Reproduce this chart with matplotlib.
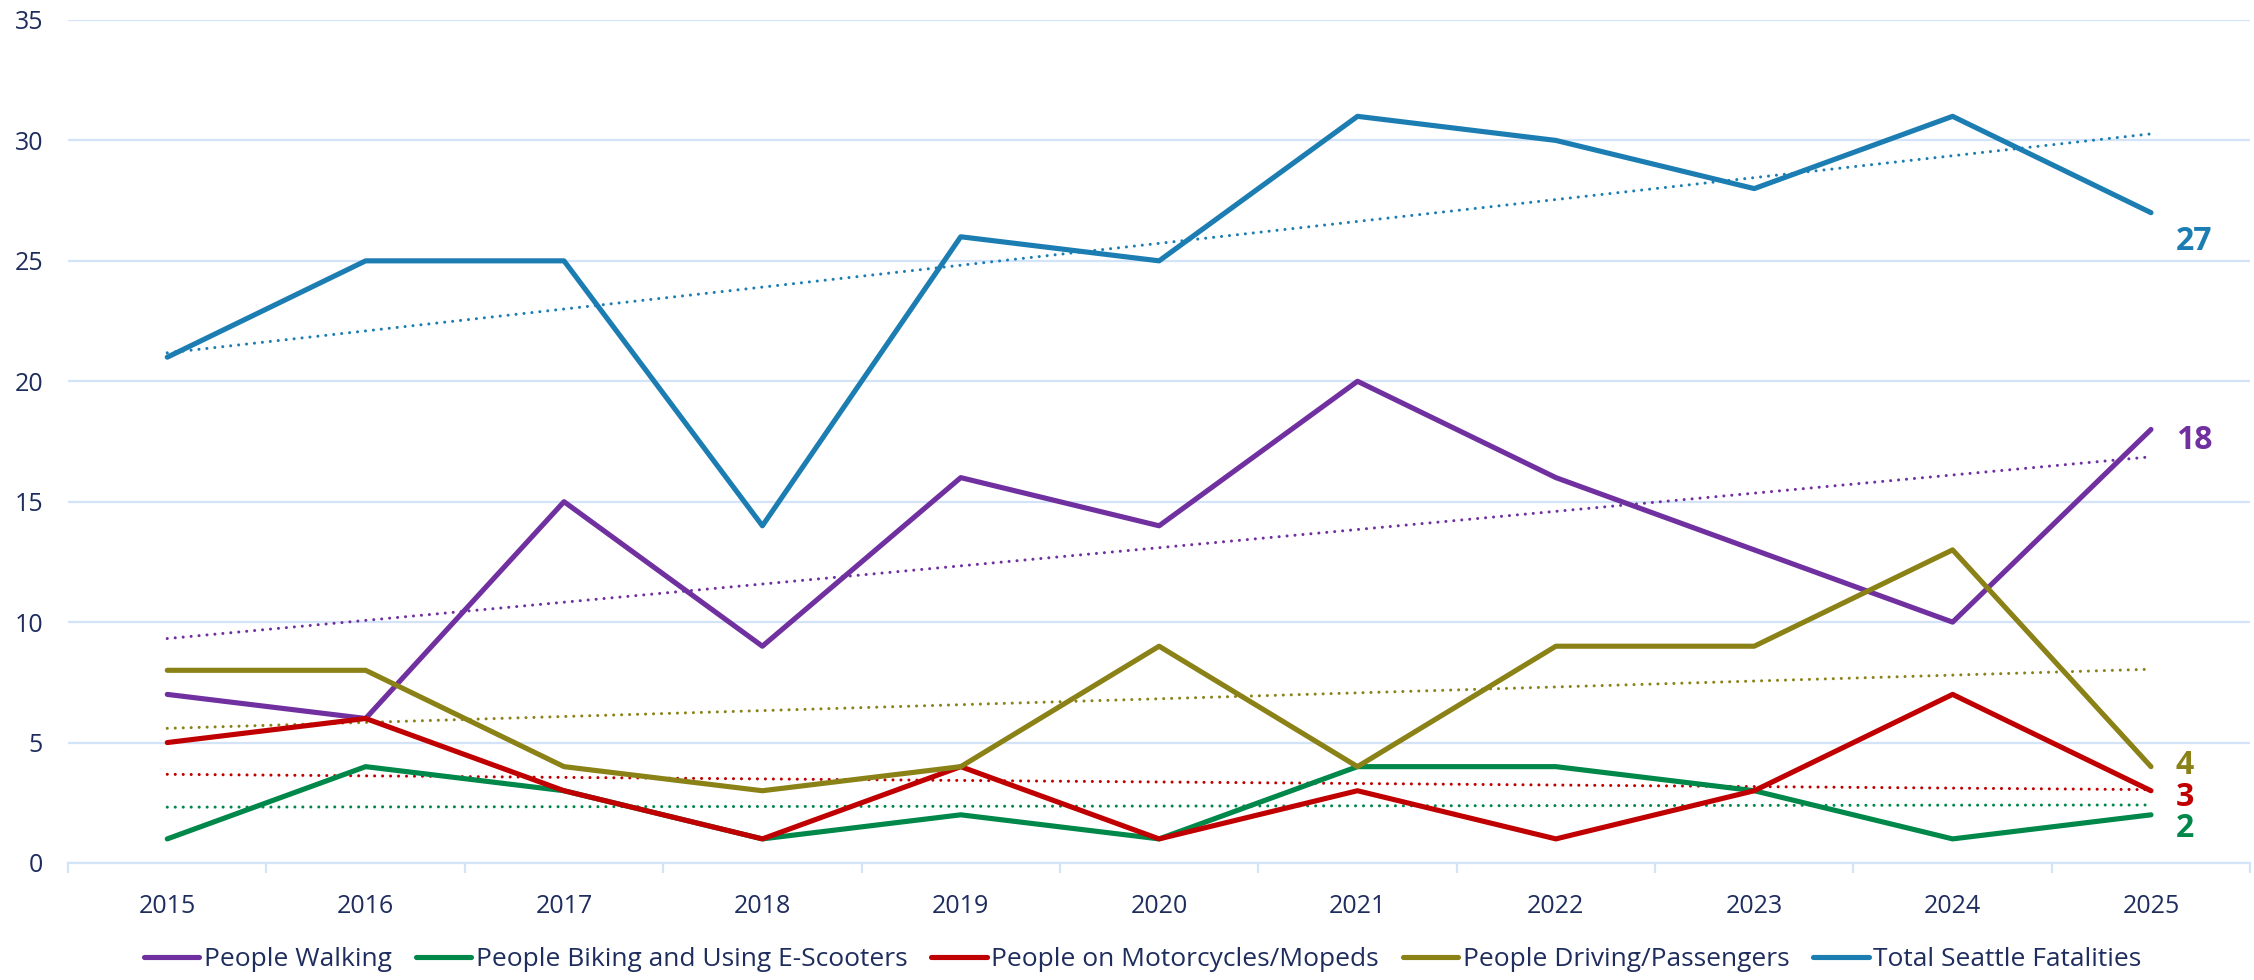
import numpy as np
import matplotlib
matplotlib.use("Agg")
import matplotlib.pyplot as plt
from matplotlib.ticker import FixedLocator, NullFormatter

# data
years = [2015, 2016, 2017, 2018, 2019, 2020, 2021, 2022, 2023, 2024, 2025]
walking = [7, 6, 15, 9, 16, 14, 20, 16, 13, 10, 18]
biking = [1, 4, 3, 1, 2, 1, 4, 4, 3, 1, 2]
motorcycles = [5, 6, 3, 1, 4, 1, 3, 1, 3, 7, 3]
driving = [8, 8, 4, 3, 4, 9, 4, 9, 9, 13, 4]
total = [21, 25, 25, 14, 26, 25, 31, 30, 28, 31, 27]

labels = ["People Walking", "People Biking and Using E-Scooters",
          "People on Motorcycles/Mopeds", "People Driving/Passengers",
          "Total Seattle Fatalities"]
colors = ["#7030A0", "#00874A", "#C00000", "#8A8117", "#1B7DB1"]
# vertical nudge (points) of the end labels so they don't overlap
end_nudge = [-8, -10, -5, 1, -21]

text_col = "#1F2D5E"
grid_col = "#D3E3F8"

plt.rcParams["font.family"] = ["Open Sans", "DejaVu Sans"]

fig = plt.figure(figsize=(22.54, 9.8), dpi=100)
ax = fig.add_axes([0.0302, 0.1194, 0.9681, 0.8602])

x = np.arange(len(years))
series = [walking, biking, motorcycles, driving, total]

for vals, lab, col, nud in zip(series, labels, colors, end_nudge):
    ax.plot(x, vals, color=col, lw=3.7, label=lab,
            solid_capstyle="round", solid_joinstyle="round", zorder=3)
    k, b = np.polyfit(x, vals, 1)
    ax.plot(x, k * x + b, color=col, lw=2.2, linestyle=(0, (0.01, 2.6)),
            dash_capstyle="round", zorder=2)
    ax.annotate(str(vals[-1]), (x[-1], vals[-1]), xytext=(18, nud),
                textcoords="offset points", color=col, fontsize=23,
                fontweight="bold", va="center", ha="left")

ax.set_xlim(-0.5, len(years) - 0.5)
ax.set_ylim(0, 35)
ax.set_yticks(range(0, 36, 5))
ax.set_xticks(x)
ax.set_xticklabels([str(y) for y in years])
ax.xaxis.set_minor_locator(FixedLocator(np.arange(-0.5, len(years), 1)))
ax.xaxis.set_minor_formatter(NullFormatter())

ax.grid(axis="y", color=grid_col, lw=1.6, zorder=0)
ax.set_axisbelow(True)
for s in ["top", "right", "left"]:
    ax.spines[s].set_visible(False)
ax.spines["bottom"].set_color(grid_col)
ax.spines["bottom"].set_linewidth(1.6)

ax.tick_params(axis="y", length=0, pad=18, labelsize=18, labelcolor=text_col)
ax.tick_params(axis="x", which="major", length=0, pad=22, labelsize=18,
               labelcolor=text_col)
ax.tick_params(axis="x", which="minor", length=7, width=1.6, color=grid_col,
               direction="out")

fig.legend(loc="center", bbox_to_anchor=(0.507, 0.021), ncol=5, frameon=False,
           fontsize=19, labelcolor=text_col, handlelength=2.1,
           handletextpad=0.18, columnspacing=0.9)

fig.savefig("out.png", dpi=100)
